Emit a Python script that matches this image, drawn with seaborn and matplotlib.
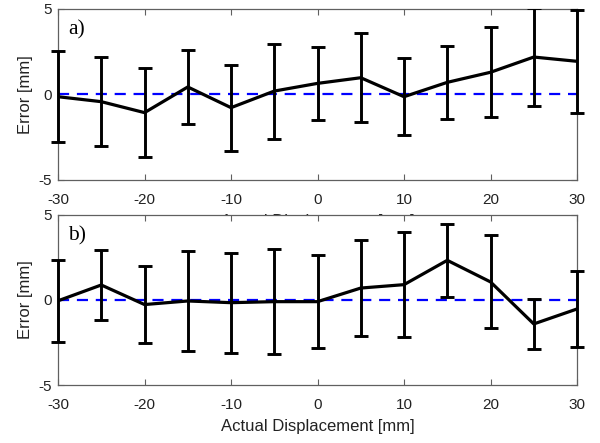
import numpy as np
import pandas as pd
import matplotlib
matplotlib.use("Agg")
import matplotlib.pyplot as plt
import matplotlib.transforms as mtransforms
import seaborn as sns

# Actual displacement positions [mm]
displacement = [-30, -25, -20, -15, -10, -5, 0, 5, 10, 15, 20, 25, 30]

# Panel a): mean error and standard deviation [mm]
mean_a = [-0.13, -0.42, -1.06, 0.44, -0.77, 0.20, 0.65, 0.98, -0.13, 0.71, 1.30, 2.19, 1.94]
sd_a = [2.65, 2.59, 2.61, 2.14, 2.52, 2.78, 2.15, 2.60, 2.25, 2.12, 2.63, 2.86, 3.01]

# Panel b): mean error and standard deviation [mm]
mean_b = [-0.05, 0.88, -0.27, -0.06, -0.16, -0.10, -0.10, 0.70, 0.90, 2.33, 1.06, -1.41, -0.53]
sd_b = [2.42, 2.03, 2.24, 2.95, 2.94, 3.10, 2.73, 2.82, 3.07, 2.15, 2.73, 1.49, 2.23]

panel_labels = ["a)", "b)"]
x_ticks = [-30, -20, -10, 0, 10, 20, 30]
y_ticks = [-5, 0, 5]

sns.set_theme(style="white")
plt.rcParams["font.family"] = ["Liberation Sans", "DejaVu Sans"]

fig = plt.figure(figsize=(6.0, 4.43), dpi=100)
ax_a = fig.add_axes([0.0967, 0.5937, 0.865, 0.386])
ax_b = fig.add_axes([0.0967, 0.1309, 0.865, 0.384])

spine_col = "#606060"
text_col = "#222222"
for ax, mean, sd, label in [(ax_a, mean_a, sd_a, panel_labels[0]),
                            (ax_b, mean_b, sd_b, panel_labels[1])]:
    df = pd.DataFrame({"x": displacement, "mean": mean, "sd": sd})
    ax.axhline(0, color="#0000ff", lw=1.6, ls=(0, (5, 3.5)), zorder=1)
    eb = ax.errorbar(df["x"], df["mean"], yerr=df["sd"], fmt="none",
                     ecolor="black", elinewidth=2.1, capsize=5, capthick=2.1,
                     zorder=3)
    sns.lineplot(data=df, x="x", y="mean", ax=ax, color="black",
                 linewidth=2.3, zorder=4)
    # clip vertically at the axes, but let the end bars show in full
    wide_box = mtransforms.TransformedBbox(
        mtransforms.Bbox([[-0.05, 0.0], [1.05, 1.0]]), ax.transAxes)
    for art in list(eb.lines[1]) + list(eb.lines[2]):
        art.set_clip_box(wide_box)
        art.set_clip_path(None)
    ax.set_xlim(-30, 30)
    ax.set_ylim(-5, 5)
    ax.set_xticks(x_ticks)
    ax.set_yticks(y_ticks)
    ax.set_xticklabels([str(t) for t in x_ticks])
    ax.set_yticklabels([str(t) for t in y_ticks])
    ax.tick_params(axis="both", direction="in", length=4, width=0.8,
                   color=spine_col, labelsize=11, labelcolor=text_col,
                   top=True, right=True, bottom=True, left=True)
    ax.tick_params(axis="x", pad=9.5)
    ax.tick_params(axis="y", pad=4.5)
    for s in ax.spines.values():
        s.set_color(spine_col)
        s.set_linewidth(0.9)
    ax.set_ylabel("Error [mm]", fontsize=12, color=text_col, labelpad=3.5)
    ax.set_xlabel("Actual Displacement [mm]", fontsize=12, color=text_col,
                  labelpad=5)
    ax.text(0.02, 0.935, label, transform=ax.transAxes, ha="left", va="top",
            fontsize=15.5, family=["Liberation Serif", "DejaVu Serif"],
            color="black")

ax_b.set_facecolor("white")
ax_b.set_zorder(2)

fig.savefig("out.png", dpi=100, facecolor="white")
